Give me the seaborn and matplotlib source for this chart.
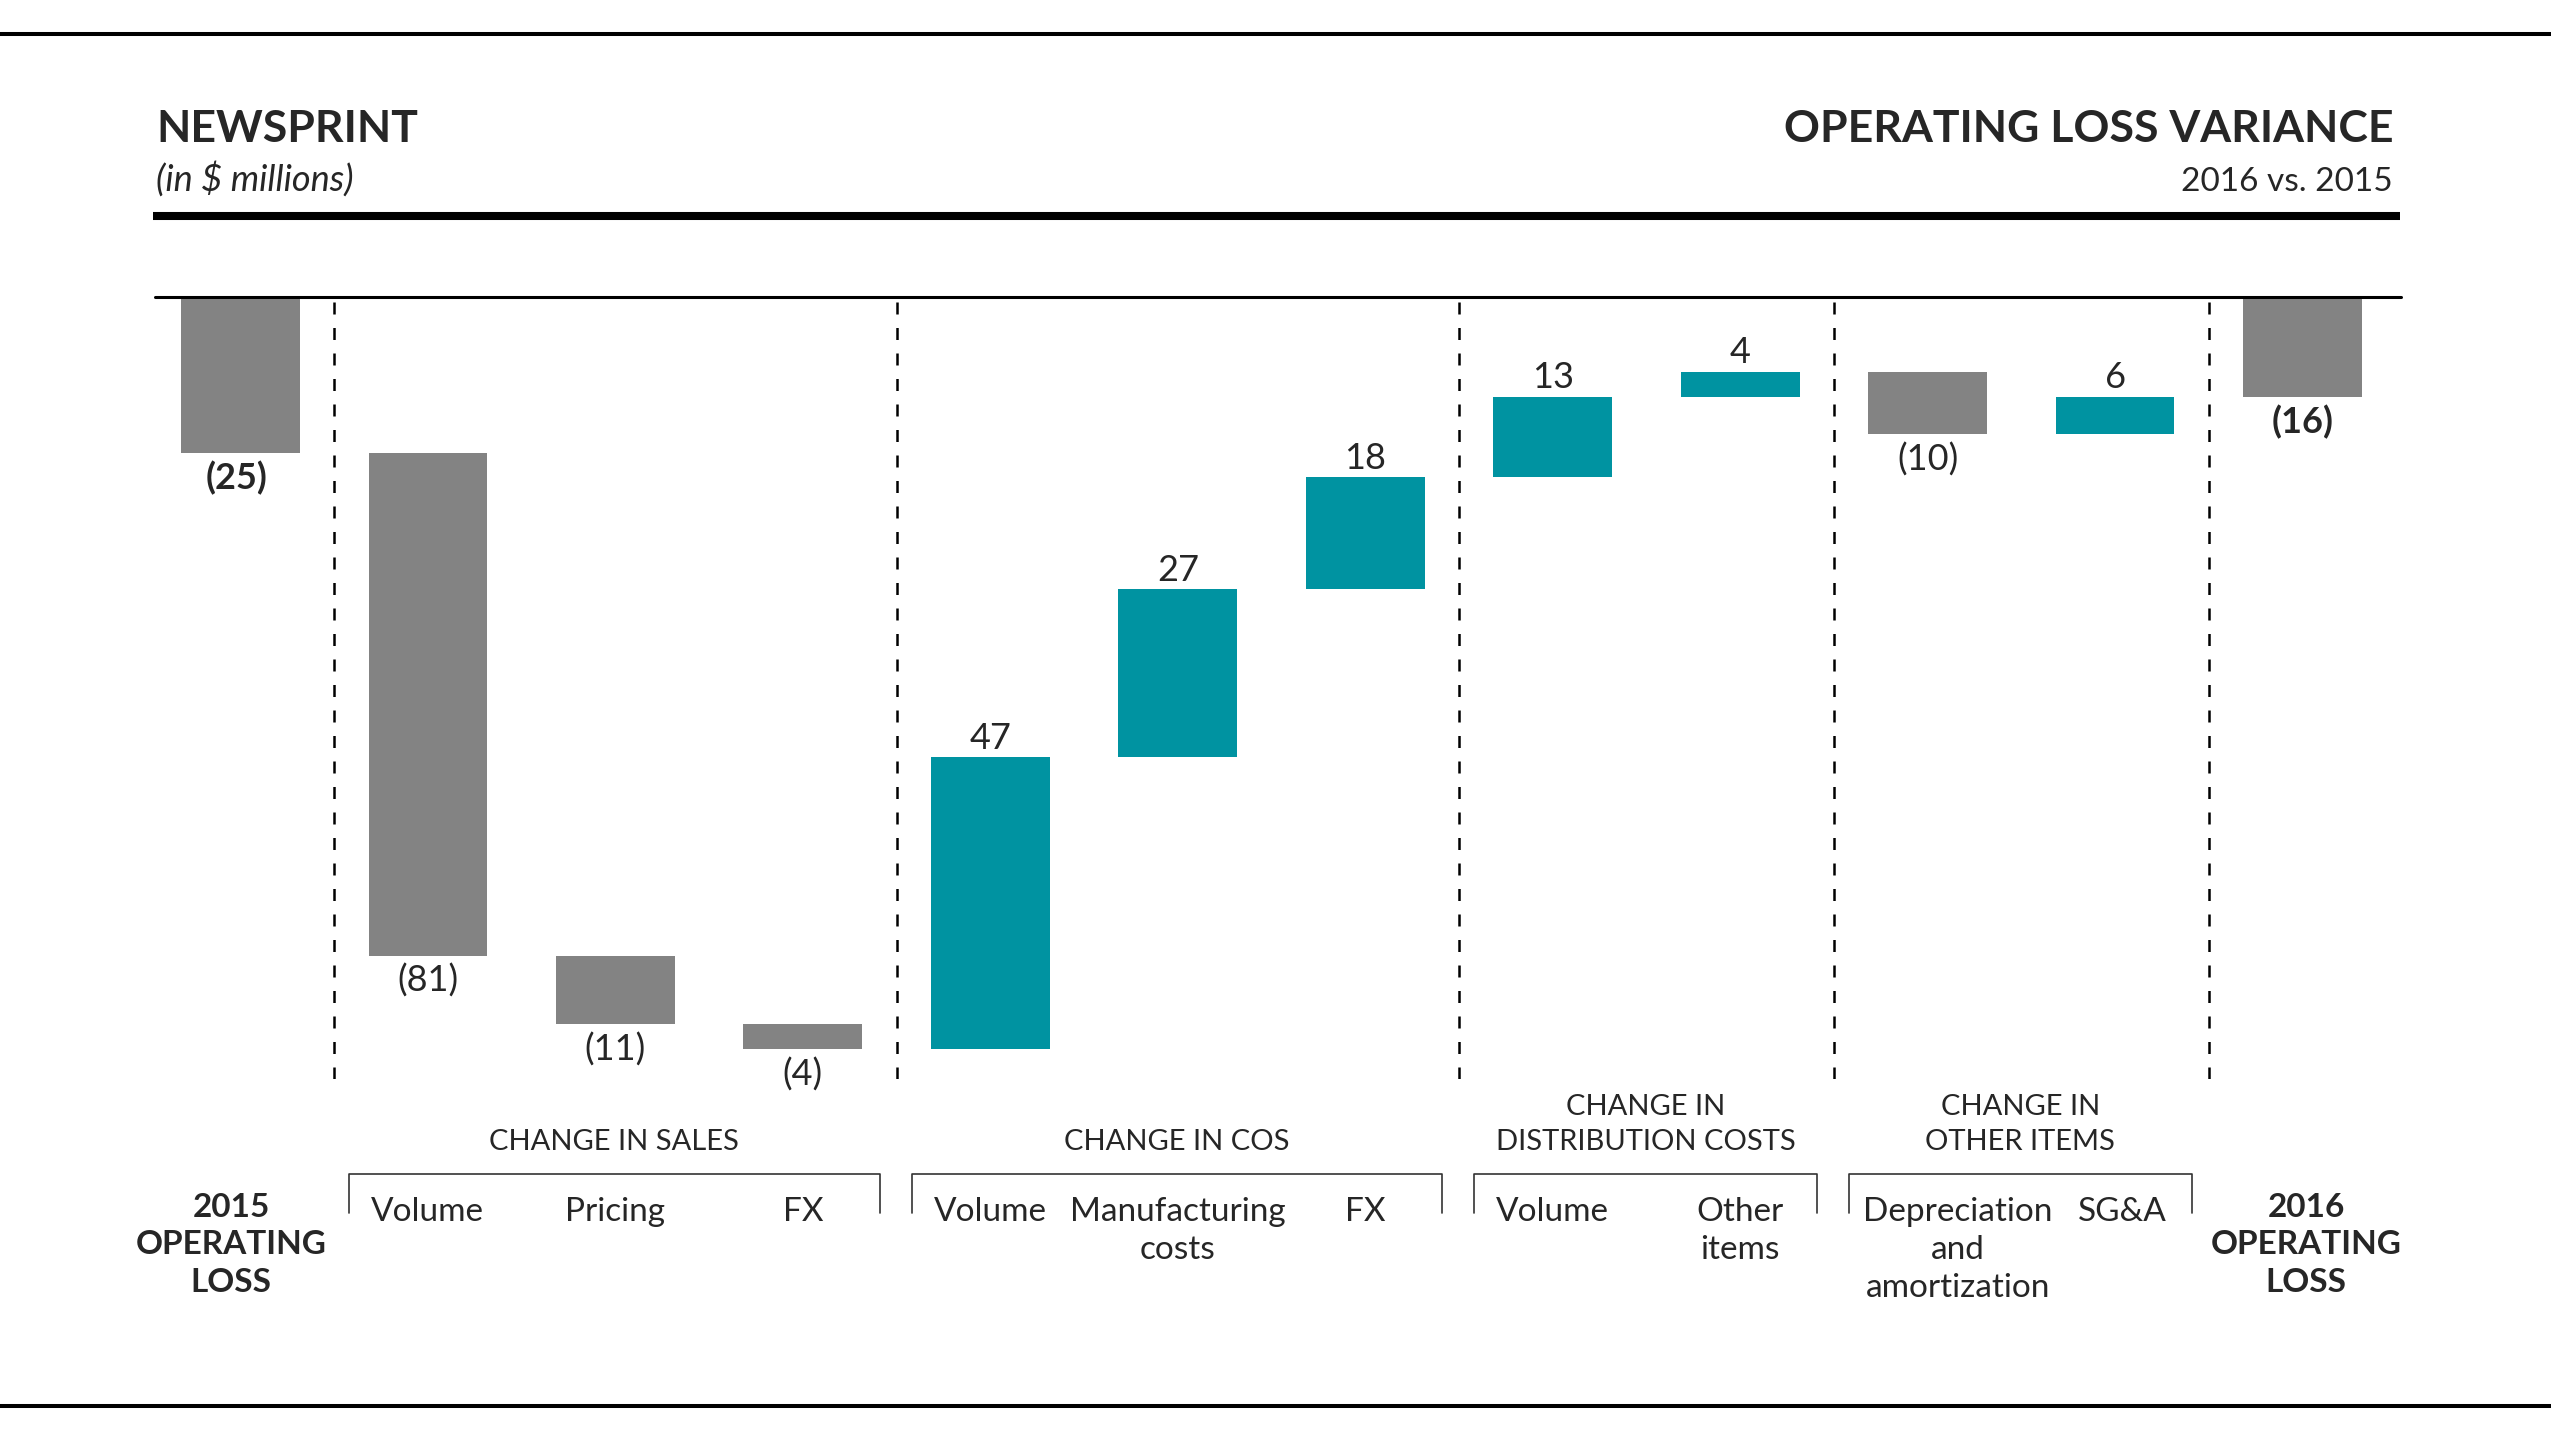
import pandas as pd
import seaborn as sns
import matplotlib.pyplot as plt
import matplotlib.transforms as mtransforms
from matplotlib.lines import Line2D

# Chart data (in $ millions)
step_labels = ["2015\nOPERATING\nLOSS", "Volume", "Pricing", "FX",
               "Volume", "Manufacturing\ncosts", "FX",
               "Volume", "Other\nitems",
               "Depreciation\nand\namortization", "SG&A",
               "2016\nOPERATING\nLOSS"]
step_groups = ["", "CHANGE IN SALES", "CHANGE IN SALES", "CHANGE IN SALES",
               "CHANGE IN COS", "CHANGE IN COS", "CHANGE IN COS",
               "CHANGE IN\nDISTRIBUTION COSTS", "CHANGE IN\nDISTRIBUTION COSTS",
               "CHANGE IN\nOTHER ITEMS", "CHANGE IN\nOTHER ITEMS", ""]
opening_loss = -25
variances = [-81, -11, -4, 47, 27, 18, 13, 4, -10, 6]
closing_loss = -16

GREY = "#838383"
TEAL = "#0093a1"

# Build the waterfall table
deltas = [opening_loss] + variances + [closing_loss]
bases = [0]
running = opening_loss
for v in variances:
    bases.append(running)
    running += v
bases.append(0)
kinds = ["total"] + ["up" if v > 0 else "down" for v in variances] + ["total"]
df = pd.DataFrame({"step": [str(i) for i in range(len(deltas))],
                   "delta": deltas, "base": bases, "kind": kinds,
                   "label": step_labels, "group": step_groups})

sns.set_style("white")
plt.rcParams["font.family"] = ["Lato", "DejaVu Sans"]

fig = plt.figure(figsize=(25.51, 14.34), dpi=100)
ax = fig.add_axes([0.0608, 0.2474, 0.8804, 0.5453])

sns.barplot(data=df, x="step", y="delta", hue="kind", order=df["step"],
            palette={"total": GREY, "down": GREY, "up": TEAL},
            width=0.633, dodge=False, legend=False, saturation=1,
            linewidth=0, ax=ax)

# float each bar on its running base
for p in ax.patches:
    i = int(round(p.get_x() + p.get_width() / 2))
    p.set_y(df["base"][i])

ax.set_xlim(-0.455, 11.525)
ax.set_ylim(-125.9, 0)
ax.set_xticks([])
ax.set_yticks([])
ax.set_xlabel("")
ax.set_ylabel("")
for s in ax.spines.values():
    s.set_visible(False)
ax.axhline(0, color="black", lw=2.2, clip_on=False, zorder=5)

# dashed separators between groups
for i in range(1, len(df)):
    if df["group"][i] != df["group"][i - 1]:
        ax.axvline(i - 0.5, color="black", lw=1.8, linestyle=(0, (4.8, 5.4)))

# value labels
for i, r in df.iterrows():
    end = r["base"] + r["delta"]
    txt = str(r["delta"]) if r["delta"] > 0 else "(%d)" % abs(r["delta"])
    weight = "bold" if r["kind"] == "total" else "normal"
    if r["delta"] > 0:
        ax.annotate(txt, (i, end), xytext=(0, 6), textcoords="offset points",
                    ha="center", va="baseline", fontsize=26, weight=weight)
    else:
        ax.annotate(txt, (i - (0.02 if i == 0 else 0), end), xytext=(0, -6),
                    textcoords="offset points", ha="center", va="top",
                    fontsize=26, weight=weight)

# category labels, group labels and brackets below the plot
trans = mtransforms.blended_transform_factory(ax.transData, fig.transFigure)
H = 1434
for i, r in df.iterrows():
    if r["kind"] == "total":
        nudge = -0.05 if i == 0 else 0.02
        ax.text(i + nudge, 1 - 1193 / H, r["label"], transform=trans, ha="center",
                va="top", fontsize=24, weight="bold", linespacing=1.35)
    else:
        nudge = 0.16 if r["label"].startswith("Depreciation") else 0
        if r["label"] == "SG&A":
            nudge = 0.04
        ax.text(i + nudge, 1 - 1197 / H, r["label"], transform=trans, ha="center",
                va="top", fontsize=24, linespacing=1.33)

groups = [g for g in dict.fromkeys(step_groups) if g]
for g in groups:
    idx = df.index[df["group"] == g]
    left, right = idx.min() - 0.42, idx.max() + 0.41
    ax.text((left + right) / 2, 1 - 1150 / H, g, transform=trans, ha="center",
            va="baseline", fontsize=21, linespacing=1.42)
    y1, y2 = 1 - 1174 / H, 1 - 1213 / H
    fig.add_artist(Line2D([left, left, right, right], [y2, y1, y1, y2],
                          transform=trans, color="#333333", lw=1.2))

# header
fig.text(156 / 2551, 1 - 142 / H, "NEWSPRINT", fontsize=32, weight="bold",
         va="baseline", ha="left")
fig.text(156 / 2551, 1 - 191 / H, "(in $ millions)", fontsize=26,
         style="italic", va="baseline", ha="left")
fig.text(2393 / 2551, 1 - 142 / H, "OPERATING LOSS VARIANCE", fontsize=32,
         weight="bold", va="baseline", ha="right")
fig.text(2393 / 2551, 1 - 191 / H, "2016 vs. 2015", fontsize=24,
         va="baseline", ha="right")

fig.add_artist(Line2D([153 / 2551, 2400 / 2551], [1 - 216 / H] * 2,
                      color="black", lw=5.8, solid_capstyle="butt"))
fig.add_artist(Line2D([0, 1], [1 - 34 / H] * 2, color="black", lw=2.9))
fig.add_artist(Line2D([0, 1], [1 - 1406 / H] * 2, color="black", lw=2.9))

fig.savefig("out.png", dpi=100, facecolor="white")
